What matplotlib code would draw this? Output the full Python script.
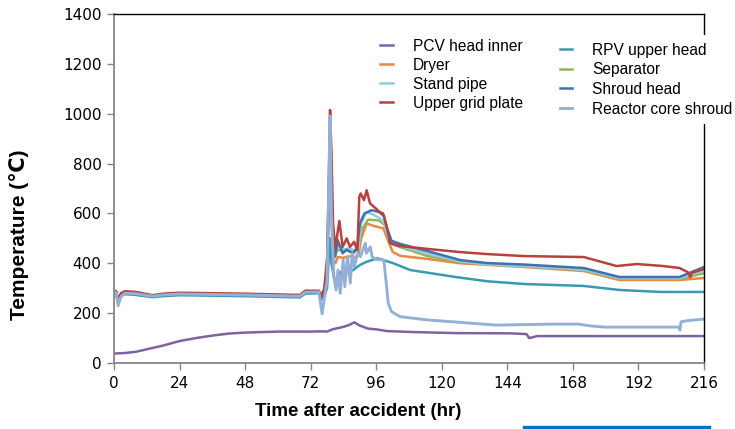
import matplotlib
matplotlib.use("Agg")
import matplotlib.pyplot as plt
from matplotlib.lines import Line2D

# ---- data (time in hr, temperature in degC) ----
pcv_head_inner = [(0,38),(4,40),(8,45),(12,55),(18,70),(24,88),(30,100),(36,110),(42,118),(48,122),
                  (60,126),(72,126),(76,127),(78,126),(80,135),(82,140),(84,145),(86,152),(88,163),
                  (90,150),(93,138),(96,135),(100,128),(110,124),(125,120),(145,119),(151,116),
                  (152,100),(155,108),(216,108)]

rpv_upper_head = [(0,280),(0.8,278),(1.5,240),(2.5,268),(4,276),(8,273),(14,264),(18,268),(24,272),
                  (36,270),(48,268),(60,265),(68,263),(70,278),(75,280),(76,255),(77,270),(78,300),
                  (78.6,420),(79.1,500),(79.6,400),(80.5,346),(81.5,310),(83,366),(84.5,360),
                  (87.6,373),(90,393),(92.5,406),(96.4,420),(98.6,413),(102.3,400),(108.4,373),
                  (125,345),(136.5,328),(150,317),(172,309),(185,293),(200,285),(216,285)]

dryer = [(0,286),(0.8,284),(1.5,250),(2.5,274),(4,282),(8,279),(14,270),(18,274),(24,278),(36,276),
         (48,274),(60,271),(68,269),(70,285),(75,286),(76,262),(77,285),(78,360),(78.6,600),
         (79.1,850),(79.6,600),(80.2,420),(81,400),(82,425),(84,422),(86,428),(88,425),(89.5,430),
         (90.5,500),(92.5,560),(95,550),(98.6,540),(100,500),(102,446),(104.7,430),(114.5,418),
         (126.7,400),(150,385),(172,369),(185,333),(207,333),(216,341)]

separator = [(0,287),(0.8,285),(1.5,248),(2.5,275),(4,283),(8,280),(14,270),(18,275),(24,279),
             (36,277),(48,275),(60,272),(68,270),(70,286),(75,287),(76,262),(77,288),(78,370),
             (78.6,620),(79.1,870),(79.6,650),(80.2,450),(81,440),(82,455),(84,448),(86,452),
             (88,448),(89.5,455),(90.5,530),(93,575),(97,572),(99,555),(101,480),(104.7,465),
             (114.5,430),(126.7,405),(150,388),(172,372),(185,338),(207,338),(216,360)]

stand_pipe = [(0,287),(0.8,285),(1.5,246),(2.5,275),(4,283),(8,280),(14,270),(18,275),(24,279),
              (36,277),(48,275),(60,272),(68,270),(70,286),(75,287),(76,262),(77,288),(78,375),
              (78.6,640),(79.1,900),(79.6,680),(80.2,460),(81,450),(82,470),(84,455),(86,460),
              (88,452),(89.5,458),(90.5,560),(92.5,606),(95,595),(97.4,580),(99,560),(101,482),
              (104.7,470),(114.5,440),(126.7,408),(136.5,395),(150,388),(172,375),(185,340),
              (207,340),(216,372)]

shroud_head = [(0,287),(0.8,285),(1.5,245),(2.5,275),(4,283),(8,280),(14,270),(18,275),(24,279),
               (36,277),(48,275),(60,272),(68,270),(70,286),(75,287),(76,262),(77,290),(78,380),
               (78.6,650),(79.1,930),(79.6,700),(80.2,480),(81,426),(81.9,493),(83.7,440),
               (85.2,455),(86.4,446),(87.6,440),(89.1,466),(90,560),(91.7,600),(94.3,613),
               (97,606),(98.8,590),(100,540),(101.6,490),(104.7,478),(114.5,450),(126.7,413),
               (136.5,401),(150,395),(172,381),(185,345),(207,345),(216,385)]

upper_grid_plate = [(0,290),(0.8,288),(1.5,255),(2.5,280),(4,288),(8,285),(14,272),(18,278),(24,282),
                    (36,280),(48,278),(60,275),(68,273),(70,290),(75,290),(76,270),(77,300),(78,420),
                    (78.6,700),(79.1,1015),(79.6,850),(80.2,560),(81,460),(82.5,570),(83.7,466),
                    (85.2,500),(86.4,466),(87.9,486),(89.1,453),(89.8,667),(90.3,680),(91.5,653),
                    (92.5,693),(93.7,641),(95,628),(97.4,605),(98.5,600),(100,540),(101,481),
                    (104.7,469),(114.5,458),(126.7,445),(136.5,437),(150,429),(172,425),(184,389),
                    (191.5,397),(201,389),(207,381),(210,365),(211,345),(211.5,362),(216,377)]

reactor_core_shroud = [(0,285),(0.8,282),(1.5,230),(2.5,266),(4,280),(8,278),(14,268),(18,273),
                       (24,277),(36,275),(48,273),(60,270),(68,268),(70,284),(75,285),(76.2,197),
                       (77,260),(78,330),(78.6,700),(79.1,990),(79.6,600),(80.5,346),(81.3,293),
                       (82,373),(82.8,280),(83.9,413),(84.5,306),(85.5,426),(86.5,320),(87.2,440),
                       (88,386),(89.2,440),(90.2,426),(91.5,466),(92,480),(92.4,440),(93.8,466),
                       (94.5,426),(96,415),(98.8,413),(99.8,306),(100.4,240),(101.6,206),(104.7,186),
                       (114.5,173),(126.7,163),(140,152),(160,156),(170,156),(175,148),(180,144),
                       (206.8,144),(207.2,132),(207.6,165),(210,170),(216,176)]

series = [
    ("PCV head inner", pcv_head_inner, "#7F63A1"),
    ("RPV upper head", rpv_upper_head, "#3A9AB2"),
    ("Dryer", dryer, "#EA8741"),
    ("Separator", separator, "#93B45A"),
    ("Stand pipe", stand_pipe, "#93CDDD"),
    ("Shroud head", shroud_head, "#4470B0"),
    ("Upper grid plate", upper_grid_plate, "#B8413D"),
    ("Reactor core shroud", reactor_core_shroud, "#95B0D8"),
]

x_ticks = [0, 24, 48, 72, 96, 120, 144, 168, 192, 216]
y_ticks = [0, 200, 400, 600, 800, 1000, 1200, 1400]

W, H = 735, 429
fig = plt.figure(figsize=(W/100, H/100), dpi=100)
ax = fig.add_axes([114/W, 1-363/H, (704-114)/W, (363-14)/H])

handles = {}
for name, pts, col in series:
    xs = [p[0] for p in pts]
    ys = [p[1] for p in pts]
    lw = 2.1 if name == "Reactor core shroud" else 1.8
    ln, = ax.plot(xs, ys, color=col, lw=lw, solid_joinstyle="round")
    handles[name] = ln

ax.set_xlim(0, 216)
ax.set_ylim(0, 1400)
ax.set_xticks(x_ticks)
ax.set_yticks(y_ticks)
for s in ("left", "bottom"):
    ax.spines[s].set_color("#868686")
    ax.spines[s].set_linewidth(1.3)
for s in ("top", "right"):
    ax.spines[s].set_color("#000000")
    ax.spines[s].set_linewidth(1.0)
ax.tick_params(axis="both", direction="out", length=5, width=1, color="#868686",
               labelsize=11, labelcolor="#000000", pad=4)
for lab in ax.get_xticklabels() + ax.get_yticklabels():
    lab.set_fontfamily("DejaVu Sans")

ax.set_xlabel("Time after accident (hr)", fontsize=13.5, fontweight="bold",
              fontfamily="Liberation Sans")
ax.xaxis.set_label_coords((358-114)/590, (363-403)/349)
ax.set_ylabel("Temperature (\u2103)", fontsize=15, fontweight="bold",
              fontfamily=["Liberation Sans", "DejaVu Sans"])
ax.yaxis.set_label_coords((29-114)/590, (363-235)/349)

leg_font = {"family": "Liberation Sans", "size": 11.2}
col1 = ["PCV head inner", "Dryer", "Stand pipe", "Upper grid plate"]
col2 = ["RPV upper head", "Separator", "Shroud head", "Reactor core shroud"]
leg1 = fig.legend([handles[n] for n in col1], col1, loc="upper left",
                  bbox_to_anchor=(369.5/W, 1-28/H), prop=leg_font, frameon=False,
                  handlelength=0.8, handletextpad=1.3, labelspacing=0.25, borderpad=0.2)
leg2 = fig.legend([handles[n] for n in col2], col2, loc="upper left",
                  bbox_to_anchor=(544/W, 1-27/H), prop=leg_font, frameon=True,
                  facecolor="white", edgecolor="none", framealpha=1.0, fancybox=False,
                  handlelength=0.8, handletextpad=1.3, labelspacing=0.3, borderpad=0.5)

fig.add_artist(Line2D([524/W, 709/W], [1-427/H, 1-427/H], color="#0070C0", lw=2.4,
                      transform=fig.transFigure))

fig.savefig("out.png", dpi=100)
